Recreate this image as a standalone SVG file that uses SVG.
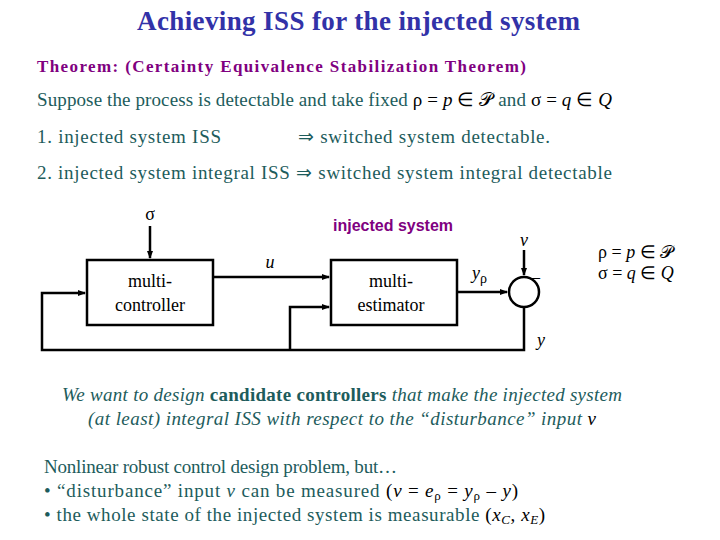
<svg xmlns="http://www.w3.org/2000/svg" width="720" height="540" viewBox="0 0 720 540">
<style>
.t{font-family:"Liberation Serif","Times New Roman",serif;fill:#1d5c5c;font-size:19px}
.d{font-family:"Liberation Serif","Times New Roman",serif;fill:#000;font-size:18px}
.box{fill:#fff;stroke:#000;stroke-width:2.5}
.ln{fill:none;stroke:#000;stroke-width:2.5}
</style>
<defs><marker id="ar" markerWidth="8" markerHeight="8" refX="7" refY="4" orient="auto" markerUnits="userSpaceOnUse"><path d="M0,1 L8,4 L0,7 z" fill="#000"/></marker></defs>
<rect width="720" height="540" fill="#fff"/>
<text x="137" y="30" textLength="443" font-family="Liberation Serif,serif" font-size="27" font-weight="bold" fill="#3232a8">Achieving ISS for the injected system</text>
<text x="37" y="72" textLength="489" font-family="Liberation Serif,serif" font-size="17" font-weight="bold" fill="#800080">Theorem: (Certainty Equivalence Stabilization Theorem)</text>
<text x="37" y="106" class="t" textLength="575">Suppose the process is detectable and take fixed <tspan fill="#000">ρ = <tspan font-style="italic">p</tspan> ∈ 𝒫</tspan> and <tspan fill="#000">σ = <tspan font-style="italic">q</tspan> ∈ <tspan font-style="italic">Q</tspan></tspan></text>
<text x="37" y="143" class="t" textLength="184">1.  injected system ISS</text>
<text x="298" y="143" class="t" textLength="252">⇒  switched system detectable.</text>
<text x="37" y="179" class="t" textLength="575">2.  injected system integral ISS  ⇒  switched system integral detectable</text>
<g id="connectors">
<line x1="150" y1="226" x2="150" y2="258" class="ln" marker-end="url(#ar)"/>
<line x1="213" y1="277" x2="329" y2="277" class="ln" marker-end="url(#ar)"/>
<line x1="457" y1="292" x2="507" y2="292" class="ln" marker-end="url(#ar)"/>
<line x1="524" y1="250" x2="524" y2="275" class="ln" marker-end="url(#ar)"/>
<polyline points="524,307 524,350 42,350 42,293 85,293" class="ln" marker-end="url(#ar)"/>
<polyline points="290,350 290,307 329,307" class="ln" marker-end="url(#ar)"/>
</g>
<g id="sigma"><text x="150" y="220" text-anchor="middle" class="d" font-size="22">σ</text></g>
<g id="injlabel"><text x="393" y="231" text-anchor="middle" font-family="Liberation Sans,sans-serif" font-size="16" font-weight="bold" fill="#800080">injected system</text></g>
<g id="controller"><rect x="87" y="260" width="126" height="65" class="box"/>
<text x="150" y="287" text-anchor="middle" class="d">multi-</text><text x="150" y="311" text-anchor="middle" class="d">controller</text></g>
<g id="estimator"><rect x="331" y="260" width="126" height="65" class="box"/>
<text x="391" y="287" text-anchor="middle" class="d">multi-</text><text x="391" y="311" text-anchor="middle" class="d">estimator</text></g>
<g id="sum"><circle cx="524" cy="292" r="15" class="box"/></g>
<text x="270" y="268" text-anchor="middle" class="d" font-style="italic" font-size="24">u</text>
<text x="524" y="246" text-anchor="middle" class="d" font-style="italic" font-size="22">v</text>
<text x="472" y="279" class="d" font-style="italic" font-size="22">y<tspan font-style="normal" font-size="14" dy="4">ρ</tspan></text>
<text x="531" y="283" class="d">–</text>
<text x="537" y="346" class="d" font-style="italic" font-size="22">y</text>
<text x="598" y="258" class="d" font-size="16">ρ = <tspan font-style="italic">p</tspan> ∈ 𝒫</text>
<text x="598" y="279" class="d" font-size="16">σ = <tspan font-style="italic">q</tspan> ∈ <tspan font-style="italic">Q</tspan></text>
<text x="62" y="401" class="t" font-style="italic" textLength="560">We want to design <tspan font-style="normal" font-weight="bold">candidate controllers</tspan> that make the injected system</text>
<text x="88" y="425" class="t" font-style="italic" textLength="508">(at least) integral ISS with respect to the “disturbance” input <tspan fill="#000">v</tspan></text>
<text x="44" y="473" class="t" textLength="353">Nonlinear robust control design problem, but…</text>
<text x="44" y="497" class="t" textLength="474">•  “disturbance” input <tspan font-style="italic">v</tspan> can be measured <tspan fill="#000">(<tspan font-style="italic">v</tspan> = <tspan font-style="italic">e</tspan><tspan font-size="13" dy="3">ρ</tspan><tspan dy="-3"> = </tspan><tspan font-style="italic">y</tspan><tspan font-size="13" dy="3">ρ</tspan><tspan dy="-3">  –  </tspan><tspan font-style="italic">y</tspan>)</tspan></text>
<text x="44" y="521" class="t" textLength="501">•  the whole state of the injected system is measurable <tspan fill="#000">(<tspan font-style="italic">x</tspan><tspan font-size="13" dy="3" font-style="italic">C</tspan><tspan dy="-3">, </tspan><tspan font-style="italic">x</tspan><tspan font-size="13" dy="3" font-style="italic">E</tspan><tspan dy="-3">)</tspan></tspan></text>
</svg>
